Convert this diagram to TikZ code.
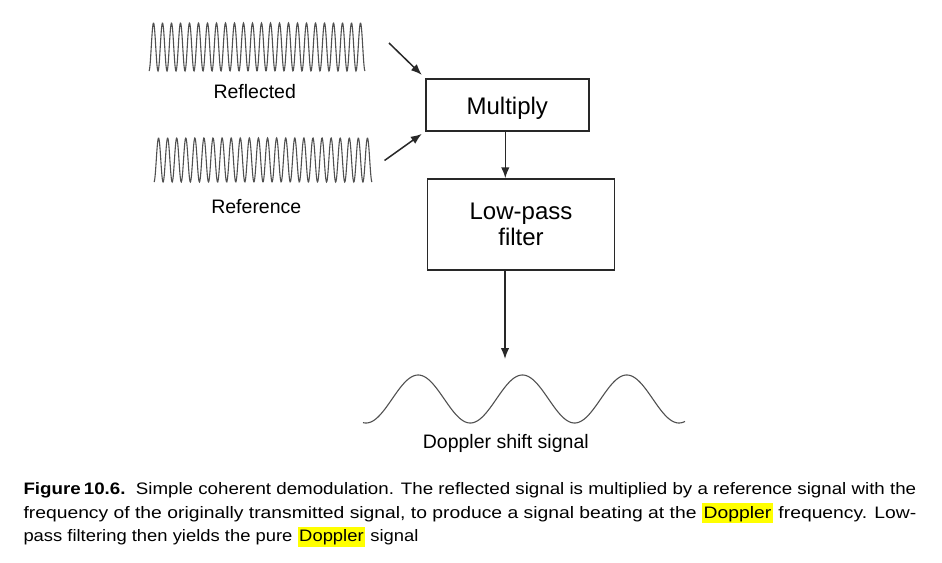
\documentclass[tikz,border=0pt]{standalone}
\usepackage{fontspec}
\setmainfont{Liberation Sans}
\usetikzlibrary{arrows.meta}
\definecolor{linecol}{RGB}{40,40,40}
\definecolor{wavecol}{RGB}{80,80,80}
\definecolor{hly}{RGB}{255,255,0}
\newcommand\hlt[1]{{\setlength\fboxsep{0pt}\colorbox{hly}{\rule[-5pt]{0pt}{20pt}\hspace{1.5pt}#1\hspace{1.5pt}}}}
\tikzset{
  box/.style={draw=linecol, line width=1.5pt, inner sep=0pt, font=\fontsize{24}{26}\selectfont, align=center},
  arr/.style={draw=linecol, line width=1.5pt, -{Latex[length=11pt,width=8.5pt]}},
  wave/.style={draw=wavecol, line width=1.1pt},
  lbl/.style={inner sep=0pt, anchor=base, font=\fontsize{19.5}{23}\selectfont},
  captxt/.style={inner sep=0pt, anchor=base west, font=\fontsize{16.6}{20}\selectfont}
}
\begin{document}
\begin{tikzpicture}[x=1pt,y=-1pt]
\useasboundingbox (0,0) rectangle (942,562);
% signals
\draw[wave] plot[domain=149:365, samples=600, smooth] (\x, {47+24*cos(40*(\x-149))});
\draw[wave] plot[domain=154:372, samples=600, smooth] (\x, {160+22*cos(39.634*(\x-154))});
\draw[wave] plot[domain=363:685, samples=300, smooth] (\x, {399+24*cos(3.4516*(\x-366))});
% labels
\node[lbl] (reflected) at (254.7,98.3) {Reflected};
\node[lbl] (reference) at (256.3,213.3) {Reference};
\node[lbl] (doppler) at (505.8,448.3) {Doppler shift signal};
% boxes
\node[box, minimum width=163pt, minimum height=52pt, text height=19pt, text depth=0pt] (m) at (507.3,104.8) {Multiply};
\node[box, minimum width=187pt, minimum height=91pt] (f) at (521,224.5) {Low-pass\\filter};
% connectors
\coordinate (in1) at (389,43);
\coordinate (in2) at (384.5,160.5);
\coordinate (out) at (505,359);
\draw[arr, shorten >=4.5pt] (in1) -- (m.north west);
\draw[arr, shorten >=4pt] (in2) -- (m.south west);
\draw[arr] ([xshift=-2pt]m.south) -- ([xshift=-2pt]m.south |- f.north);
\draw[arr] (f.south -| out) -- (out);
% caption
\node[captxt] (c1) at (23.3,494) {\resizebox{892.7pt}{\height}{\textbf{Figure\,10.6.}\ \ Simple coherent demodulation. The reflected signal is multiplied by a reference signal with the}};
\node[captxt] (c2) at (23.3,518.3) {\resizebox{892.7pt}{\height}{frequency of the originally transmitted signal, to produce a signal beating at the \hlt{Doppler} frequency. Low-}};
\node[captxt] (c3) at (23.3,541.7) {\resizebox{395pt}{\height}{pass filtering then yields the pure \hlt{Doppler} signal}};
\end{tikzpicture}
\end{document}
